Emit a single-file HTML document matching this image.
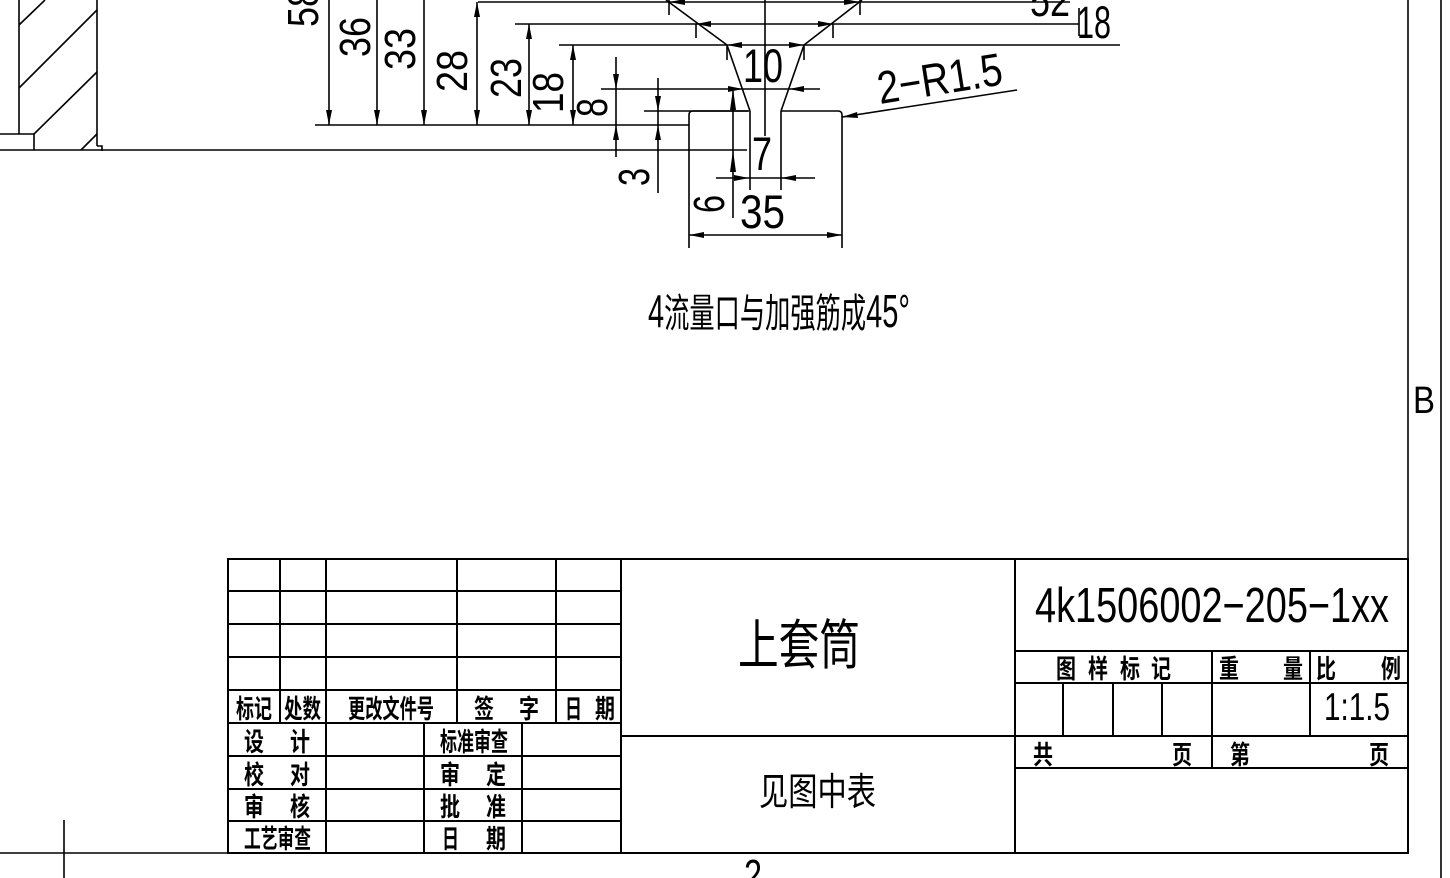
<!DOCTYPE html>
<html><head><meta charset="utf-8">
<style>
html,body{margin:0;padding:0;background:#fff;}
svg{display:block;}
text{font-family:"Liberation Sans","Noto Sans CJK SC",sans-serif;fill:#000;}
.c{font-family:"Noto Sans CJK SC","WenQuanYi Zen Hei",sans-serif;}
</style></head>
<body>
<svg width="1450" height="878" viewBox="0 0 1450 878" xmlns="http://www.w3.org/2000/svg">
<g stroke="#000" stroke-width="1.6" fill="none">
<line x1="19" y1="0" x2="19" y2="134"/>
<line x1="97" y1="0" x2="97" y2="146"/>
<polyline points="97,146 102,146 102,151"/>
<polyline points="0,134 34,134 34,150"/>
<line x1="34" y1="134" x2="97" y2="72"/>
<line x1="19" y1="88" x2="97" y2="10"/>
<line x1="19" y1="25" x2="45" y2="0"/>
<line x1="81" y1="150" x2="97" y2="134"/>
<line x1="0" y1="150" x2="747" y2="150"/>
<line x1="315" y1="125" x2="689" y2="125"/>
<line x1="329" y1="0" x2="329" y2="125"/>
<line x1="377" y1="0" x2="377" y2="125"/>
<line x1="424" y1="0" x2="424" y2="125"/>
<line x1="477" y1="2" x2="477" y2="125"/>
<line x1="529" y1="24" x2="529" y2="125"/>
<line x1="573" y1="45" x2="573" y2="125"/>
<line x1="616" y1="57" x2="616" y2="157"/>
<line x1="658" y1="78" x2="658" y2="193"/>
<line x1="733" y1="89" x2="733" y2="218"/>
<line x1="478" y1="2" x2="1070" y2="2"/>
<line x1="515" y1="24" x2="1079" y2="24"/>
<line x1="559" y1="45" x2="1120" y2="45"/>
<line x1="601" y1="89" x2="820" y2="89"/>
<line x1="644" y1="111" x2="748" y2="111"/>
<line x1="716" y1="178" x2="815" y2="178"/>
<line x1="689" y1="235" x2="842" y2="235"/>
<line x1="669" y1="0" x2="669" y2="15"/>
<line x1="860" y1="0" x2="860" y2="15"/>
<line x1="696" y1="24" x2="696" y2="38"/>
<line x1="833" y1="24" x2="833" y2="38"/>
<line x1="1079" y1="8" x2="1079" y2="36"/>
<line x1="727" y1="45" x2="727" y2="60"/>
<line x1="804" y1="45" x2="804" y2="60"/>
<path d="M689,248 L689,115 Q689,111 693,111 L749,111"/>
<path d="M781,111 L838,111 Q842,111 842,115 L842,248"/>
<line x1="750" y1="111" x2="750" y2="190"/>
<line x1="781" y1="111" x2="781" y2="190"/>
<line x1="727" y1="45" x2="750" y2="111"/>
<line x1="804" y1="45" x2="781" y2="111"/>
<line x1="727" y1="45" x2="666" y2="0"/>
<line x1="804" y1="45" x2="862" y2="0"/>
<line x1="765" y1="0" x2="765" y2="136"/>
<line x1="1017" y1="90" x2="842" y2="117"/>
<line x1="1408" y1="0" x2="1408" y2="853"/>
<line x1="1441" y1="0" x2="1441" y2="878"/>
<line x1="0" y1="853" x2="1408" y2="853"/>
<line x1="64" y1="820" x2="64" y2="878"/>
</g>
<g fill="#000">
<polygon points="329,125 326,110 332,110"/>
<polygon points="377,125 374,110 380,110"/>
<polygon points="424,125 421,110 427,110"/>
<polygon points="477,125 474,110 480,110"/><polygon points="477,2 474,17 480,17"/>
<polygon points="529,125 526,110 532,110"/><polygon points="529,24 526,39 532,39"/>
<polygon points="573,125 570,110 576,110"/><polygon points="573,45 570,60 576,60"/>
<polygon points="616,89 613,74 619,74"/><polygon points="616,125 613,140 619,140"/>
<polygon points="658,111 655,96 661,96"/><polygon points="658,125 655,140 661,140"/>
<polygon points="733,89 730,110 736,110"/><polygon points="733,150 730,172 736,172"/>
<polygon points="669,2 685,-1 685,5"/><polygon points="860,2 844,-1 844,5"/>
<polygon points="696,24 711,21 711,27"/><polygon points="833,24 818,21 818,27"/>
<polygon points="727,45 742,42 742,48"/><polygon points="804,45 789,42 789,48"/>
<polygon points="743,89 728,86 728,92"/><polygon points="789,89 804,86 804,92"/>
<polygon points="749,178 734,175 734,181"/><polygon points="781,178 796,175 796,181"/>
<polygon points="689,235 704,232 704,238"/><polygon points="842,235 827,232 827,238"/>
<polygon points="842,117 857,112 858,118"/>
</g>
<g font-size="44">
<text transform="translate(318,27) rotate(-90)" textLength="40" lengthAdjust="spacingAndGlyphs">58</text>
<text transform="translate(370,57) rotate(-90)" textLength="40" lengthAdjust="spacingAndGlyphs">36</text>
<text transform="translate(415,70) rotate(-90)" textLength="42" lengthAdjust="spacingAndGlyphs">33</text>
<text transform="translate(467,92) rotate(-90)" textLength="42" lengthAdjust="spacingAndGlyphs">28</text>
<text transform="translate(521,98) rotate(-90)" textLength="40" lengthAdjust="spacingAndGlyphs">23</text>
<text transform="translate(563,113) rotate(-90)" textLength="41" lengthAdjust="spacingAndGlyphs">18</text>
<text transform="translate(607,117) rotate(-90)" textLength="19" lengthAdjust="spacingAndGlyphs">8</text>
<text transform="translate(649,186) rotate(-90)" textLength="18" lengthAdjust="spacingAndGlyphs">3</text>
<text transform="translate(724,213) rotate(-90)" textLength="18" lengthAdjust="spacingAndGlyphs">6</text>
<text x="743" y="82" font-size="47" textLength="40" lengthAdjust="spacingAndGlyphs">10</text>
<text x="752" y="170" font-size="47" textLength="20" lengthAdjust="spacingAndGlyphs">7</text>
<text x="740" y="228" font-size="47" textLength="45" lengthAdjust="spacingAndGlyphs">35</text>
<text x="1077" y="38" font-size="45" textLength="34" lengthAdjust="spacingAndGlyphs">18</text>
<text x="1030" y="16" font-size="45" textLength="40" lengthAdjust="spacingAndGlyphs">52</text>
<text transform="translate(880,104) rotate(-9)" font-size="46" textLength="126" lengthAdjust="spacingAndGlyphs">2−R1.5</text>
<text x="1413" y="413" font-size="38" textLength="22" lengthAdjust="spacingAndGlyphs">B</text>
<text x="744" y="890" textLength="18" lengthAdjust="spacingAndGlyphs">2</text>
</g>
<text x="648" y="327" font-size="40" textLength="262" lengthAdjust="spacingAndGlyphs"><tspan font-size="46">4</tspan><tspan class="c">流量口与加强筋成</tspan><tspan font-size="46">45°</tspan></text>
<g stroke="#000" stroke-width="2" fill="none">
<rect x="228" y="559" width="1180" height="294"/>
<line x1="228" y1="591" x2="621" y2="591"/>
<line x1="228" y1="624" x2="621" y2="624"/>
<line x1="228" y1="657" x2="621" y2="657"/>
<line x1="228" y1="690" x2="621" y2="690"/>
<line x1="228" y1="723" x2="621" y2="723"/>
<line x1="228" y1="756" x2="621" y2="756"/>
<line x1="228" y1="789" x2="621" y2="789"/>
<line x1="228" y1="821" x2="621" y2="821"/>
<line x1="280" y1="559" x2="280" y2="723"/>
<line x1="326" y1="559" x2="326" y2="853"/>
<line x1="457" y1="559" x2="457" y2="723"/>
<line x1="556" y1="559" x2="556" y2="723"/>
<line x1="424" y1="723" x2="424" y2="853"/>
<line x1="522" y1="723" x2="522" y2="853"/>
<line x1="621" y1="559" x2="621" y2="853"/>
<line x1="621" y1="736" x2="1015" y2="736"/>
<line x1="1015" y1="559" x2="1015" y2="853"/>
<line x1="1015" y1="651" x2="1408" y2="651"/>
<line x1="1015" y1="683" x2="1408" y2="683"/>
<line x1="1015" y1="736" x2="1408" y2="736"/>
<line x1="1015" y1="768" x2="1408" y2="768"/>
<line x1="1212" y1="651" x2="1212" y2="768"/>
<line x1="1310" y1="651" x2="1310" y2="736"/>
<line x1="1063" y1="683" x2="1063" y2="736"/>
<line x1="1113" y1="683" x2="1113" y2="736"/>
<line x1="1162" y1="683" x2="1162" y2="736"/>
</g>
<g class="c" font-size="26" font-weight="bold">
<text class="c" x="236" y="718" textLength="36" lengthAdjust="spacingAndGlyphs">标记</text>
<text class="c" x="284" y="718" textLength="37" lengthAdjust="spacingAndGlyphs">处数</text>
<text class="c" x="348" y="718" textLength="86" lengthAdjust="spacingAndGlyphs">更改文件号</text>
<text class="c" x="474" y="718" textLength="20" lengthAdjust="spacingAndGlyphs">签</text><text class="c" x="519" y="718" textLength="20" lengthAdjust="spacingAndGlyphs">字</text>
<text class="c" x="565" y="718" textLength="17" lengthAdjust="spacingAndGlyphs">日</text><text class="c" x="595" y="718" textLength="20" lengthAdjust="spacingAndGlyphs">期</text>
<text class="c" x="244" y="751" textLength="20" lengthAdjust="spacingAndGlyphs">设</text><text class="c" x="290" y="751" textLength="20" lengthAdjust="spacingAndGlyphs">计</text>
<text class="c" x="244" y="784" textLength="20" lengthAdjust="spacingAndGlyphs">校</text><text class="c" x="290" y="784" textLength="20" lengthAdjust="spacingAndGlyphs">对</text>
<text class="c" x="244" y="816" textLength="20" lengthAdjust="spacingAndGlyphs">审</text><text class="c" x="290" y="816" textLength="20" lengthAdjust="spacingAndGlyphs">核</text>
<text class="c" x="244" y="848" textLength="67" lengthAdjust="spacingAndGlyphs">工艺审查</text>
<text class="c" x="440" y="751" textLength="68" lengthAdjust="spacingAndGlyphs">标准审查</text>
<text class="c" x="440" y="784" textLength="20" lengthAdjust="spacingAndGlyphs">审</text><text class="c" x="486" y="784" textLength="20" lengthAdjust="spacingAndGlyphs">定</text>
<text class="c" x="440" y="816" textLength="20" lengthAdjust="spacingAndGlyphs">批</text><text class="c" x="486" y="816" textLength="20" lengthAdjust="spacingAndGlyphs">准</text>
<text class="c" x="442" y="848" textLength="17" lengthAdjust="spacingAndGlyphs">日</text><text class="c" x="486" y="848" textLength="20" lengthAdjust="spacingAndGlyphs">期</text>
<text class="c" x="1056" y="678" textLength="20" lengthAdjust="spacingAndGlyphs">图</text><text class="c" x="1088" y="678" textLength="20" lengthAdjust="spacingAndGlyphs">样</text>
<text class="c" x="1120" y="678" textLength="20" lengthAdjust="spacingAndGlyphs">标</text><text class="c" x="1151" y="678" textLength="20" lengthAdjust="spacingAndGlyphs">记</text>
<text class="c" x="1219" y="678" textLength="20" lengthAdjust="spacingAndGlyphs">重</text><text class="c" x="1283" y="678" textLength="20" lengthAdjust="spacingAndGlyphs">量</text>
<text class="c" x="1316" y="678" textLength="20" lengthAdjust="spacingAndGlyphs">比</text><text class="c" x="1381" y="678" textLength="20" lengthAdjust="spacingAndGlyphs">例</text>
<text class="c" x="1033" y="764" textLength="20" lengthAdjust="spacingAndGlyphs">共</text><text class="c" x="1172" y="764" textLength="20" lengthAdjust="spacingAndGlyphs">页</text>
<text class="c" x="1230" y="764" textLength="20" lengthAdjust="spacingAndGlyphs">第</text><text class="c" x="1369" y="764" textLength="20" lengthAdjust="spacingAndGlyphs">页</text>
</g>
<text class="c" x="738" y="664" font-size="54" textLength="122" lengthAdjust="spacingAndGlyphs">上套筒</text>
<text class="c" x="759" y="805" font-size="38" textLength="117" lengthAdjust="spacingAndGlyphs">见图中表</text>
<text x="1035" y="622" font-size="49" textLength="354" lengthAdjust="spacingAndGlyphs">4k1506002−205−1xx</text>
<text x="1324" y="720" font-size="39" textLength="66" lengthAdjust="spacingAndGlyphs">1:1.5</text>
</svg>
</body></html>
